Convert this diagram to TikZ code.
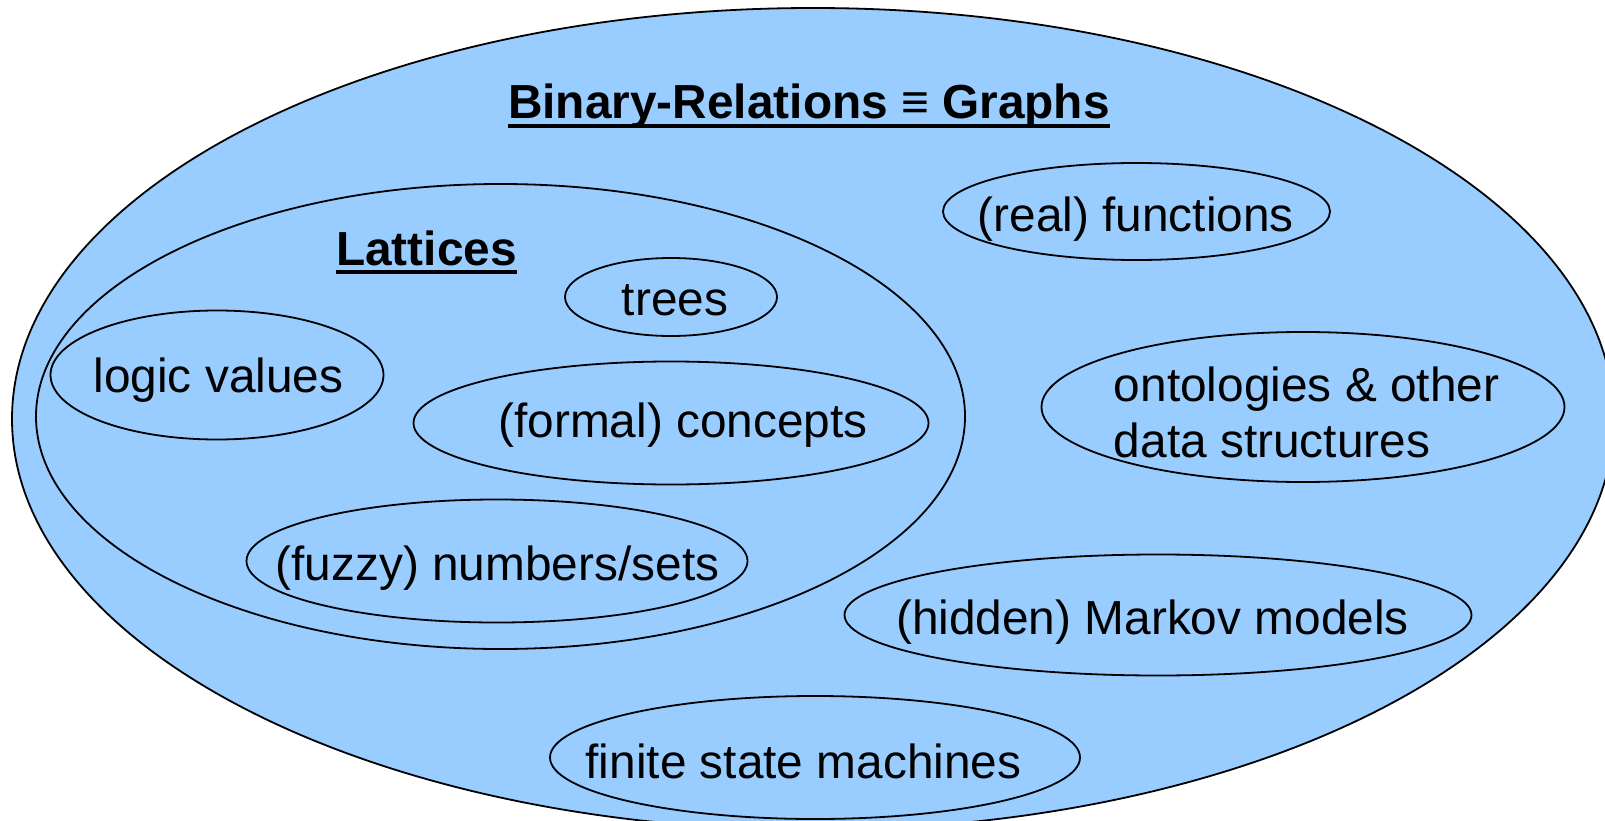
\documentclass[tikz,border=0pt]{standalone}
\usepackage{fontspec}
\setmainfont{Liberation Sans}
\usetikzlibrary{shapes.geometric}
\definecolor{setblue}{RGB}{153,204,255}
\tikzset{
  setshape/.style={ellipse, draw=black, fill=setblue, line width=1.8pt,
                   inner sep=0pt, outer sep=0pt},
  lbl/.style={inner sep=0pt, font=\fontsize{47.8}{56.5}\selectfont},
  heading/.style={inner sep=0pt, font=\fontsize{47.8}{56.5}\selectfont\bfseries},
  uline/.style={line width=4pt}
}
\begin{document}
\begin{tikzpicture}[x=1pt,y=-1pt]
\useasboundingbox (0,0) rectangle (1605,821);
\clip (0,0) rectangle (1605,821);

% outer set: all binary relations
\node[setshape, minimum width=1602pt, minimum height=822pt] (graphs) at (813,419) {};
% lattices
\node[setshape, minimum width=929pt, minimum height=465pt] (lattices) at (500.5,416.5) {};

% member sets
\node[setshape, minimum width=387pt, minimum height=97pt]  (real)    at (1136.5,211.5) {};
\node[setshape, minimum width=212pt, minimum height=78pt]  (trees)   at (671,297) {};
\node[setshape, minimum width=333pt, minimum height=129pt] (logic)   at (217,375) {};
\node[setshape, minimum width=515pt, minimum height=123pt] (formal)  at (671,423) {};
\node[setshape, minimum width=523pt, minimum height=150pt] (onto)    at (1303,407) {};
\node[setshape, minimum width=501pt, minimum height=123pt] (fuzzy)   at (497,561) {};
\node[setshape, minimum width=627pt, minimum height=121pt] (markov)  at (1158,615) {};
\node[setshape, minimum width=530pt, minimum height=123pt] (fsm)     at (815,757.5) {};

% headings
\node[heading, anchor=base] (title) at (809,119) {Binary-Relations ≡ Graphs};
\draw[uline] ([yshift=-7pt]title.base west) -- ([yshift=-7pt]title.base east);
\node[heading, anchor=base west] (lathead) at (336,265) {Lattices};
\draw[uline] ([yshift=-7pt]lathead.base west) -- ([yshift=-7pt]lathead.base east);

% labels
\node[lbl, anchor=base] (treal)   at (1135.8,231.7) {(real) functions};
\node[lbl, anchor=base] (ttrees)  at (675,315) {trees};
\node[lbl, anchor=base] (tlogic)  at (218.5,392.7) {logic values};
\node[lbl, anchor=base] (tformal) at (683,437.8) {(formal) concepts};
\node[lbl, anchor=base west] (tonto1) at (1113.7,401) {ontologies \& other};
\node[lbl, anchor=base west] (tonto2) at (1113.7,457.5) {data structures};
\node[lbl, anchor=base] (tfuzzy)  at (497.5,580) {(fuzzy) numbers/sets};
\node[lbl, anchor=base] (tmarkov) at (1152.5,634.6) {(hidden) Markov models};
\node[lbl, anchor=base] (tfsm)    at (803.5,778) {finite state machines};
\end{tikzpicture}
\end{document}
